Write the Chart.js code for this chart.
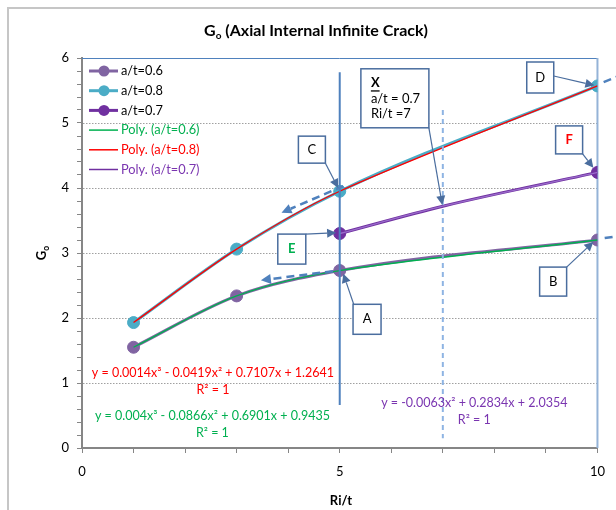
<!DOCTYPE html>
<html>
<head>
<meta charset="utf-8">
<script src="https://cdn.jsdelivr.net/npm/chart.js@4.4.1/dist/chart.umd.min.js"></script>
<style>
    html, body { margin: 0; padding: 0; background: #fff; overflow: hidden; }
    #wrap { position: relative; width: 616px; height: 510px; overflow: hidden; }
    #frame { position: absolute; left: 7px; top: 7px; width: 800px; height: 800px;
             border: 2px solid #c6c6c6; box-sizing: border-box; }
    canvas { position: absolute; left: 0; top: 0; }
</style>
</head>
<body>
<div id="wrap">
    <div id="frame"></div>
    <canvas id="goChart" width="616" height="510"></canvas>
</div>
<script>
/* ---------- data ---------- */
const riT06 = [1, 3, 5, 10];
const go06  = [1.55, 2.34, 2.73, 3.20];

const riT08 = [1, 3, 5, 10];
const go08  = [1.93, 3.06, 3.95, 5.57];

const riT07 = [5, 7, 10];
const go07  = [3.30, 3.72, 4.24];

const xTickLabels = [0, 5, 10];
const yTickLabels = [0, 1, 2, 3, 4, 5, 6];

const FONT = "Lato";

function pts(xs, ys) {
    return xs.map((x, i) => ({ x, y: ys[i] }));
}

/* ---------- annotations (data units for anchors, px for sizes) ---------- */
const callouts = [
    { text: "C", cx: 4.46, cy: 4.59, w: 27, h: 27, fx: 13.5, fy: 13.5, tx: 4.97, ty: 4.00 },
    { text: "D", cx: 8.89, cy: 5.70, w: 27, h: 31, fx: 13.5, fy: -1.5, tx: 9.94, ty: 5.58 },
    { text: "F", cx: 9.45, cy: 4.74, w: 27, h: 28, fx: 13.5, fy: 14,   tx: 9.92, ty: 4.31, color: "#ff0000", bold: true },
    { text: "E", cx: 4.07, cy: 3.06, w: 28, h: 30, fx: 14,   fy: -15,  tx: 4.93, ty: 3.31, color: "#00b050", bold: true },
    { text: "A", cx: 5.53, cy: 1.98, w: 28, h: 30, fx: -13,  fy: -14,  tx: 5.07, ty: 2.68 },
    { text: "B", cx: 9.14, cy: 2.56, w: 27, h: 29, fx: 13.5, fy: -14.5, tx: 9.92, ty: 3.17 }
];

const markX = { cx: 6.07, cy: 5.38, w: 68, h: 59, fx: 34, fy: 29.5, tx: 6.99, ty: 3.74,
                lines: ["X", "a/t = 0.7", "Ri/t =7"] };

const dashedArrows = [
    { x1: 5.07, y1: 4.03, x2: 3.87, y2: 3.62, head: true },
    { x1: 4.87, y1: 2.72, x2: 3.47, y2: 2.58, head: true },
    { x1: 10.12, y1: 5.63, x2: 10.4, y2: 5.72, head: false },
    { x1: 10.14, y1: 3.23, x2: 10.4, y2: 3.26, head: false }
];

const equations = [
    { lines: ["y = 0.0014x³ - 0.0419x² + 0.7107x + 1.2641", "R² = 1"], cx: 2.54, cy: 1.15, color: "#ff0000" },
    { lines: ["y = 0.004x³ - 0.0866x² + 0.6901x + 0.9435", "R² = 1"],  cx: 2.53, cy: 0.49, color: "#00b050" },
    { lines: ["y = -0.0063x² + 0.2834x + 2.0354", "R² = 1"],            cx: 7.61, cy: 0.69, color: "#7a35b0" }
];

const legendRows = [
    { label: "a/t=0.6",         color: "#8064a2", marker: true,  text: "#000" },
    { label: "a/t=0.8",         color: "#4bacc6", marker: true,  text: "#000" },
    { label: "a/t=0.7",         color: "#7030a0", marker: true,  text: "#000" },
    { label: "Poly. (a/t=0.6)", color: "#00b050", marker: false, text: "#00b050" },
    { label: "Poly. (a/t=0.8)", color: "#ff0000", marker: false, text: "#ff0000" },
    { label: "Poly. (a/t=0.7)", color: "#7030a0", marker: false, text: "#7a35b0" }
];

/* ---------- drawing helpers ---------- */
function strokeLine(ctx, x1, y1, x2, y2) {
    ctx.beginPath();
    ctx.moveTo(x1, y1);
    ctx.lineTo(x2, y2);
    ctx.stroke();
}

function arrow(ctx, x1, y1, x2, y2, head, half) {
    const ang = Math.atan2(y2 - y1, x2 - x1);
    const bx = x2 - head * Math.cos(ang);
    const by = y2 - head * Math.sin(ang);
    strokeLine(ctx, x1, y1, bx, by);
    ctx.setLineDash([]);
    ctx.beginPath();
    ctx.moveTo(x2, y2);
    ctx.lineTo(bx + half * Math.sin(ang), by - half * Math.cos(ang));
    ctx.lineTo(bx - half * Math.sin(ang), by + half * Math.cos(ang));
    ctx.closePath();
    ctx.fill();
}

function subText(ctx, parts, x, y, align) {
    // parts: [text, size, dy, weight]
    let total = 0;
    parts.forEach(p => { ctx.font = p[3] + " " + p[1] + "px " + FONT; total += ctx.measureText(p[0]).width; });
    let cur = align === "center" ? x - total / 2 : x;
    ctx.textAlign = "left";
    parts.forEach(p => {
        ctx.font = p[3] + " " + p[1] + "px " + FONT;
        ctx.fillText(p[0], cur, y + p[2]);
        cur += ctx.measureText(p[0]).width;
    });
}

const decor = {
    id: "decor",
    beforeDatasetsDraw(chart) {
        const { ctx, chartArea: a, scales: { x, y } } = chart;
        ctx.save();
        ctx.strokeStyle = "#a0a0a0";
        ctx.lineWidth = 1;
        ctx.setLineDash([1.5, 1.5]);
        yTickLabels.filter(v => v > 0 && v < 6).forEach(v => {
            const py = Math.round(y.getPixelForValue(v)) + 0.5;
            strokeLine(ctx, a.left + 1, py, a.right, py);
        });
        ctx.setLineDash([]);
        ctx.strokeStyle = "#4f81bd";
        ctx.lineWidth = 1;
        strokeLine(ctx, a.left, a.top + 0.5, a.right, a.top + 0.5);
        ctx.strokeStyle = "#95b3d7";
        ctx.lineWidth = 2;
        strokeLine(ctx, a.right, a.top, a.right, a.bottom);
        ctx.restore();
    },
    afterDatasetsDraw(chart) {
        const { ctx, scales: { x, y } } = chart;
        ctx.save();

        // reference lines at Ri/t = 5 and 7
        ctx.strokeStyle = "#4f81bd";
        ctx.lineWidth = 2;
        strokeLine(ctx, x.getPixelForValue(5), y.getPixelForValue(5.78), x.getPixelForValue(5), y.getPixelForValue(0.66));
        ctx.strokeStyle = "#8eb4e3";
        ctx.setLineDash([5, 4]);
        strokeLine(ctx, x.getPixelForValue(7), y.getPixelForValue(5.2), x.getPixelForValue(7), y.getPixelForValue(0.15));
        ctx.setLineDash([]);

        // dashed direction arrows
        dashedArrows.forEach(d => {
            ctx.strokeStyle = "#4f81bd";
            ctx.fillStyle = "#4f81bd";
            ctx.lineWidth = 2.5;
            ctx.setLineDash([8, 5]);
            const x1 = x.getPixelForValue(d.x1), y1 = y.getPixelForValue(d.y1);
            const x2 = x.getPixelForValue(d.x2), y2 = y.getPixelForValue(d.y2);
            if (d.head) arrow(ctx, x1, y1, x2, y2, 10, 5);
            else strokeLine(ctx, x1, y1, x2, y2);
            ctx.setLineDash([]);
        });

        // callout boxes
        const boxStroke = "#4a6d9e";
        const drawBox = (c) => {
            const px = x.getPixelForValue(c.cx), py = y.getPixelForValue(c.cy);
            ctx.strokeStyle = boxStroke;
            ctx.fillStyle = boxStroke;
            ctx.lineWidth = 1.2;
            arrow(ctx, px + c.fx, py + c.fy, x.getPixelForValue(c.tx), y.getPixelForValue(c.ty), 9, 4.5);
            ctx.fillStyle = "#fff";
            ctx.lineWidth = 1.5;
            ctx.fillRect(px - c.w / 2, py - c.h / 2, c.w, c.h);
            ctx.strokeRect(px - c.w / 2, py - c.h / 2, c.w, c.h);
            return { px, py };
        };
        callouts.forEach(c => {
            const { px, py } = drawBox(c);
            ctx.fillStyle = c.color || "#000";
            ctx.font = (c.bold ? "bold " : "") + "13px " + FONT;
            ctx.textAlign = "center";
            ctx.textBaseline = "middle";
            ctx.fillText(c.text, px, py);
        });
        const b = drawBox(markX);
        const left = b.px - markX.w / 2 + 10;
        ctx.fillStyle = "#000";
        ctx.textAlign = "left";
        ctx.textBaseline = "middle";
        ctx.font = "bold 13px " + FONT;
        ctx.fillText(markX.lines[0], left, b.py - 15);
        const wX = ctx.measureText(markX.lines[0]).width;
        ctx.fillRect(left, b.py - 8, wX, 1.3);
        ctx.font = "13px " + FONT;
        ctx.fillText(markX.lines[1], left, b.py + 1);
        ctx.fillText(markX.lines[2], left, b.py + 16);

        // trendline equations
        equations.forEach(e => {
            ctx.fillStyle = e.color;
            ctx.font = "12.5px " + FONT;
            ctx.textAlign = "center";
            ctx.textBaseline = "middle";
            const px = x.getPixelForValue(e.cx), py = y.getPixelForValue(e.cy);
            ctx.fillText(e.lines[0], px, py);
            ctx.fillText(e.lines[1], px, py + 17);
        });

        // legend
        legendRows.forEach((r, i) => {
            const ry = 71 + i * 19.7;
            ctx.strokeStyle = r.color;
            ctx.lineWidth = r.marker ? 3 : 1.5;
            strokeLine(ctx, 89, ry, 118, ry);
            if (r.marker) {
                ctx.fillStyle = r.color;
                ctx.beginPath();
                ctx.arc(104, ry, 5.5, 0, Math.PI * 2);
                ctx.fill();
            }
            ctx.fillStyle = r.text;
            ctx.font = "12.8px " + FONT;
            ctx.textAlign = "left";
            ctx.textBaseline = "middle";
            ctx.fillText(r.label, 121, ry);
        });
        ctx.restore();
    },
    afterDraw(chart) {
        const { ctx } = chart;
        ctx.save();
        ctx.fillStyle = "#000";
        ctx.textBaseline = "alphabetic";
        subText(ctx, [["G", 16, 0, "bold"], ["o", 10, 3, "bold"], [" (Axial Internal Infinite Crack)", 16, 0, "bold"]], 316, 36, "center");
        ctx.font = "bold 13px " + FONT;
        ctx.textAlign = "center";
        ctx.fillText("Ri/t", 341, 505);
        ctx.translate(46, 253);
        ctx.rotate(-Math.PI / 2);
        subText(ctx, [["G", 13, 0, "bold"], ["o", 8.5, 3, "bold"]], 0, 0, "center");
        ctx.restore();
    }
};

/* ---------- chart ---------- */
const lineDs = (label, data, color, extra) => Object.assign({
    label, data, borderColor: color, backgroundColor: color,
    showLine: true, fill: false, pointRadius: 6, pointHoverRadius: 6,
    pointBorderWidth: 1, borderWidth: 3, cubicInterpolationMode: "monotone"
}, extra);

new Chart(document.getElementById("goChart").getContext("2d"), {
    type: "scatter",
    data: {
        datasets: [
            lineDs("Poly. (a/t=0.8)", pts(riT08, go08), "#ff0000", { borderWidth: 1.3, pointRadius: 0, cubicInterpolationMode: "default", tension: 0.3 }),
            lineDs("Poly. (a/t=0.6)", pts(riT06, go06), "#00b050", { borderWidth: 1.3, pointRadius: 0, cubicInterpolationMode: "default", tension: 0.3 }),
            lineDs("Poly. (a/t=0.7)", pts(riT07, go07), "#9a6ccb", { borderWidth: 1.3, pointRadius: 0, cubicInterpolationMode: "default", tension: 0.3 }),
            lineDs("a/t=0.6", pts(riT06, go06), "#8064a2"),
            lineDs("a/t=0.8", pts(riT08, go08), "#4bacc6"),
            lineDs("a/t=0.7", pts(riT07, go07), "#7030a0", { pointRadius: [6, 0, 6] })
        ]
    },
    options: {
        responsive: false,
        animation: false,
        events: [],
        layout: { padding: { left: 0, top: 58, right: 15, bottom: 0 } },
        plugins: { legend: { display: false }, tooltip: { enabled: false } },
        scales: {
            x: {
                type: "linear",
                min: 0,
                max: 10,
                ticks: {
                    stepSize: 1,
                    autoSkip: false,
                    maxRotation: 0,
                    padding: 11,
                    color: "#000",
                    font: { family: FONT, size: 13 },
                    callback: v => xTickLabels.includes(v) ? String(v) : ""
                },
                grid: { drawOnChartArea: false, tickLength: 5, tickColor: "#868686", tickWidth: 1 },
                border: { color: "#868686", width: 2 },
                afterFit(scale) { scale.height = 62; }
            },
            y: {
                min: 0,
                max: 6,
                ticks: {
                    stepSize: 0.2,
                    autoSkip: false,
                    padding: 8,
                    color: "#000",
                    font: { family: FONT, size: 13 },
                    callback: v => {
                        const r = Math.round(v);
                        return Math.abs(v - r) < 1e-6 && yTickLabels.includes(r) ? String(r) : "";
                    }
                },
                grid: { drawOnChartArea: false, tickLength: 5, tickColor: "#868686", tickWidth: 1 },
                border: { color: "#868686", width: 2 },
                afterFit(scale) { scale.width = 82; }
            }
        }
    },
    plugins: [decor]
});
</script>
</body>
</html>
